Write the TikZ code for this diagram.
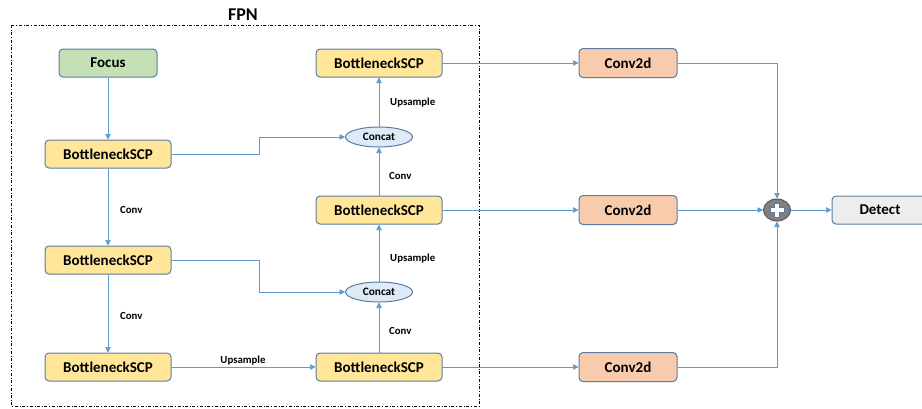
\documentclass[tikz,border=0pt]{standalone}
\usepackage{fontspec}
\setmainfont{Carlito}
\usetikzlibrary{arrows.meta,shapes.geometric}
\definecolor{edgeblue}{HTML}{5B9BD5}
\definecolor{boxline}{HTML}{5A7CA3}
\definecolor{yel}{HTML}{FFE699}
\definecolor{grn}{HTML}{C5E0B4}
\definecolor{org}{HTML}{F8CBAD}
\definecolor{gry}{HTML}{EDEDED}
\definecolor{cct}{HTML}{DEEBF7}
\tikzset{
  blk/.style={draw=boxline,line width=1pt,rounded corners=4pt,minimum height=28pt,inner sep=0pt,font=\fontsize{15}{15}\selectfont\bfseries},
  bscp/.style={blk,fill=yel,minimum width=126pt},
  focusbox/.style={blk,fill=grn,minimum width=98pt},
  convbox/.style={blk,fill=org,minimum width=98pt,minimum height=29pt},
  detbox/.style={blk,fill=gry,minimum width=96pt},
  concatnode/.style={ellipse,draw=boxline,line width=1pt,fill=cct,minimum width=67pt,minimum height=20pt,inner sep=0pt,font=\fontsize{11.3}{11.3}\selectfont\bfseries},
  lbl/.style={inner sep=0pt,font=\fontsize{10.8}{10.8}\selectfont\bfseries},
  arr/.style={draw=edgeblue,line width=0.7pt,-{Triangle[length=5.5pt,width=5.5pt]}},
}
\begin{document}
\begin{tikzpicture}[x=1pt,y=-1pt]
\useasboundingbox (0,0) rectangle (922,408);
% FPN frame
\draw[dash dot,line width=0.8pt] (11,25) rectangle (479,406);
\node[inner sep=0pt,font=\fontsize{18}{18}\selectfont\bfseries] (fpn) at (243,15) {FPN};
% left column
\node[focusbox] (focus) at (108,63) {Focus};
\node[bscp] (b1) at (108,154) {BottleneckSCP};
\node[bscp] (b2) at (108,260) {BottleneckSCP};
\node[bscp] (b3) at (108,367) {BottleneckSCP};
% right column
\node[bscp] (r1) at (379,63) {BottleneckSCP};
\node[concatnode] (c1) at (379,137) {Concat};
\node[bscp] (r2) at (379,210) {BottleneckSCP};
\node[concatnode] (c2) at (379,292) {Concat};
\node[bscp] (r3) at (379,367) {BottleneckSCP};
% conv2d
\node[convbox] (d1) at (628,63) {Conv2d};
\node[convbox] (d2) at (628,210) {Conv2d};
\node[convbox] (d3) at (628,367) {Conv2d};
% plus
\node[ellipse,draw=black!65,line width=1pt,fill=black!50,minimum width=27pt,minimum height=22pt,inner sep=0pt] (plus) at (777,210) {};
\draw[draw=boxline,line width=0.6pt,fill=white] (774.5,203) -- (779.5,203) -- (779.5,207.5) -- (784,207.5) -- (784,212.5) -- (779.5,212.5) -- (779.5,217) -- (774.5,217) -- (774.5,212.5) -- (770,212.5) -- (770,207.5) -- (774.5,207.5) -- cycle;
\node[detbox] (det) at (880,210) {Detect};
% connectors
\draw[arr] (focus) -- (b1);
\draw[arr] (b1) -- (b2);
\draw[arr] (b2) -- (b3);
\node[lbl,anchor=west] (lc1) at (120,210) {Conv};
\node[lbl,anchor=west] (lc2) at (120,316) {Conv};
\draw[arr] (b1.east) -- ++(88,0) |- (c1.west);
\draw[arr] (b2.east) -- ++(88,0) |- (c2.west);
\draw[arr] (b3) -- (r3);
\node[lbl] (lu1) at (243,361) {Upsample};
\draw[arr] (r3) -- (c2);
\node[lbl,anchor=west] (lc3) at (389,331) {Conv};
\draw[arr] (c2) -- (r2);
\node[lbl,anchor=west] (lu2) at (390,259) {Upsample};
\draw[arr] (r2) -- (c1);
\node[lbl,anchor=west] (lc4) at (389,176) {Conv};
\draw[arr] (c1) -- (r1);
\node[lbl,anchor=west] (lu3) at (390,103) {Upsample};
\draw[arr] (r1) -- (d1);
\draw[arr] (r2) -- (d2);
\draw[arr] (r3) -- (d3);
\draw[arr] (d1.east) -| (plus.north);
\draw[arr] (d2) -- (plus);
\draw[arr] (d3.east) -| (plus.south);
\draw[arr] (plus) -- (det);
\end{tikzpicture}
\end{document}
